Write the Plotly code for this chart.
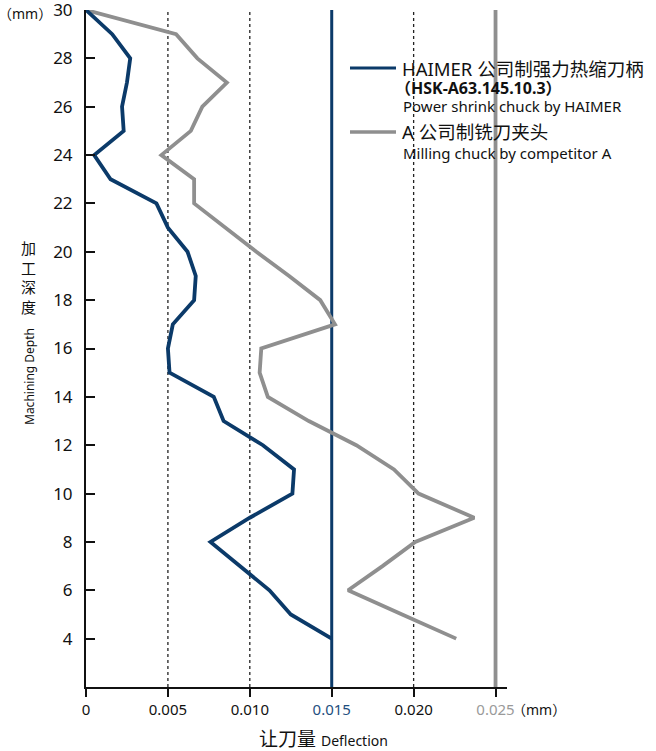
import plotly.graph_objects as go

# ---- data ----
depth = [30, 29, 28, 27, 26, 25, 24, 23, 22, 21, 20, 19, 18, 17, 16, 15, 14,
         13, 12, 11, 10, 9, 8, 7, 6, 5, 4]
haimer = [0.0, 0.0016, 0.0027, 0.0025, 0.0022, 0.0023, 0.0005, 0.0015, 0.0043,
          0.0050, 0.0062, 0.0067, 0.0066, 0.0053, 0.0050, 0.0051, 0.0078,
          0.0084, 0.0108, 0.0127, 0.0126, 0.0100, 0.0076, 0.0094, 0.0112,
          0.0125, 0.0150]
competitor = [0.0, 0.0055, 0.0068, 0.0086, 0.0071, 0.0064, 0.0046, 0.0066,
              0.0066, 0.0085, 0.0104, 0.0124, 0.0143, 0.0152, 0.0107, 0.0106,
              0.0111, 0.0136, 0.0165, 0.0188, 0.0203, 0.0237, 0.0201, 0.0181,
              0.0160, 0.0193, 0.0226]
guide_values = [0.005, 0.010, 0.020]
limit_values = [0.015, 0.025]
x_tickvals = [0, 0.005, 0.010, 0.015, 0.020, 0.025]
x_ticklabels = ["0", "0.005", "0.010", "0.015", "0.020", "0.025"]
y_tickvals = [4, 6, 8, 10, 12, 14, 16, 18, 20, 22, 24, 26, 28, 30]

BLUE = "#0b3a69"
GRAY = "#8f8f8f"
BLUE_TXT = "#1e4f80"
GRAY_TXT = "#9a9a9a"
FONT = "Noto Sans, Noto Sans CJK SC, sans-serif"

W, H = 656, 751
PX_L, PX_R, PX_T, PX_B = 86, 507, 10, 687   # plot area in window pixels
L, R, T, B = PX_L, W - PX_R, PX_T, H - PX_B
PW, PH = PX_R - PX_L, PX_B - PX_T


def fx(px):
    return (px - PX_L) / PW


def fy(py):
    return (PX_B - py) / PH


tick_colors = {"0.015": BLUE_TXT, "0.025": GRAY_TXT}
ticktext = [f'<span style="color:{tick_colors[t]}">{t}</span>' if t in tick_colors else t
            for t in x_ticklabels]

fig = go.Figure()
fig.add_trace(go.Scatter(x=competitor, y=depth, mode="lines",
                         line=dict(color=GRAY, width=3.8), showlegend=False))
fig.add_trace(go.Scatter(x=haimer, y=depth, mode="lines",
                         line=dict(color=BLUE, width=3.8), showlegend=False))

for v in guide_values:
    fig.add_shape(type="line", xref="x", yref="paper", x0=v, x1=v, y0=0, y1=1,
                  line=dict(color="#222", width=1.3, dash="dot"), layer="below")
for v, c, w in zip(limit_values, [BLUE, GRAY], [3, 3.8]):
    fig.add_shape(type="line", xref="x", yref="paper", x0=v, x1=v, y0=0, y1=1,
                  line=dict(color=c, width=w), layer="below")

# legend keys
fig.add_shape(type="line", xref="paper", yref="paper", x0=fx(350), x1=fx(396),
              y0=fy(68), y1=fy(68), line=dict(color=BLUE, width=3))
fig.add_shape(type="line", xref="paper", yref="paper", x0=fx(350), x1=fx(396),
              y0=fy(132), y1=fy(132), line=dict(color=GRAY, width=3.5))

ann = []


def add_text(text, px, py, size, xanchor="left", yanchor="middle", angle=0, color="#111"):
    ann.append(dict(text=text, x=fx(px), y=fy(py), xref="paper", yref="paper",
                    showarrow=False, xanchor=xanchor, yanchor=yanchor,
                    textangle=angle, font=dict(size=size, color=color, family=FONT)))


add_text("HAIMER 公司制强力热缩刀柄", 400, 68, 18.5)
add_text("<b>（HSK-A63.145.10.3）</b>", 393, 87.5, 16)
add_text("Power shrink chuck by HAIMER", 401, 106, 15)
add_text("A 公司制铣刀夹头", 400, 132, 18.5)
add_text("Milling chuck by competitor A", 401, 153, 15)

add_text("（mm）", 510, 709, 14)
add_text("（mm）", 54, 14, 14, xanchor="right")
add_text("让刀量 <span style='font-size:14px'>Deflection</span>", 323, 739, 19,
         xanchor="center")
add_text("加<br>工<br>深<br>度", 28, 277, 15, xanchor="center")
add_text("Machining Depth", 30, 377, 12, xanchor="center", angle=-90)

fig.update_layout(
    width=W, height=H,
    margin=dict(l=L, r=R, t=T, b=B, autoexpand=False),
    paper_bgcolor="white", plot_bgcolor="white",
    font=dict(family=FONT, size=15, color="#111"),
    annotations=ann,
    showlegend=False,
    xaxis=dict(range=[0, 0.0257], tickvals=x_tickvals, ticktext=ticktext,
               showline=True, linecolor="#111", linewidth=2,
               ticks="outside", ticklen=8, tickwidth=2, tickcolor="#111",
               showgrid=False, zeroline=False, tickfont=dict(size=15),
               ticklabeloverflow="allow"),
    yaxis=dict(range=[2, 30], tickvals=y_tickvals,
               showline=True, linecolor="#111", linewidth=2,
               ticks="inside", ticklen=9, tickwidth=2, tickcolor="#111",
               showgrid=False, zeroline=False, tickfont=dict(size=17),
               ticklabelstandoff=8, ticklabeloverflow="allow"),
)

# remove the default 8px page margin so the figure fills the window exactly
fig.write_html("out.html", config={"displayModeBar": False},
               post_script="document.body.style.margin='0';")
